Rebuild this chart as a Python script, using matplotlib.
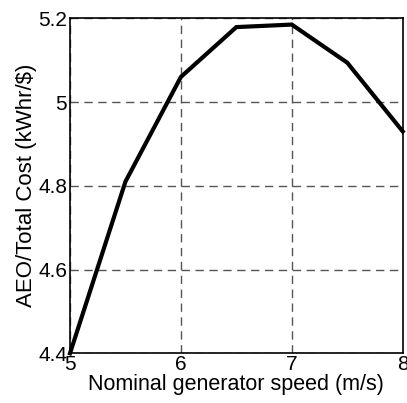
import matplotlib
matplotlib.use("Agg")
import matplotlib.pyplot as plt

speed = [5, 5.5, 6, 6.5, 7, 7.5, 8]
ratio = [4.40, 4.81, 5.06, 5.179, 5.185, 5.094, 4.93]
xticks = [5, 6, 7, 8]
yticks = [4.4, 4.6, 4.8, 5.0, 5.2]
yticklabels = ["4.4", "4.6", "4.8", "5", "5.2"]

plt.rcParams['font.family'] = ['Liberation Sans', 'DejaVu Sans']
fig = plt.figure(figsize=(4.07, 4.03), dpi=100)
ax = fig.add_axes([70/407, 1 - 353.3/403, (402.7-70)/407, (353.3-18.3)/403])
ax.plot(speed, ratio, color='black', linewidth=3, solid_joinstyle='miter', clip_on=False)
ax.set_xlim(5, 8)
ax.set_ylim(4.4, 5.2)
ax.set_xticks(xticks)
ax.set_yticks(yticks)
ax.set_yticklabels(yticklabels)
ax.grid(True, linestyle=(0, (6, 4)), color='#555555', linewidth=1)
ax.tick_params(direction='in', length=0, labelsize=15, pad=1)
ax.tick_params(axis='y', pad=2)
for s in ax.spines.values():
    s.set_linewidth(1.2)
ax.set_xlabel('Nominal generator speed (m/s)', fontsize=15.5, labelpad=0)
ax.set_ylabel('AEO/Total Cost (kWhr/$)', fontsize=16, labelpad=1)
fig.savefig('out.png', dpi=100)
